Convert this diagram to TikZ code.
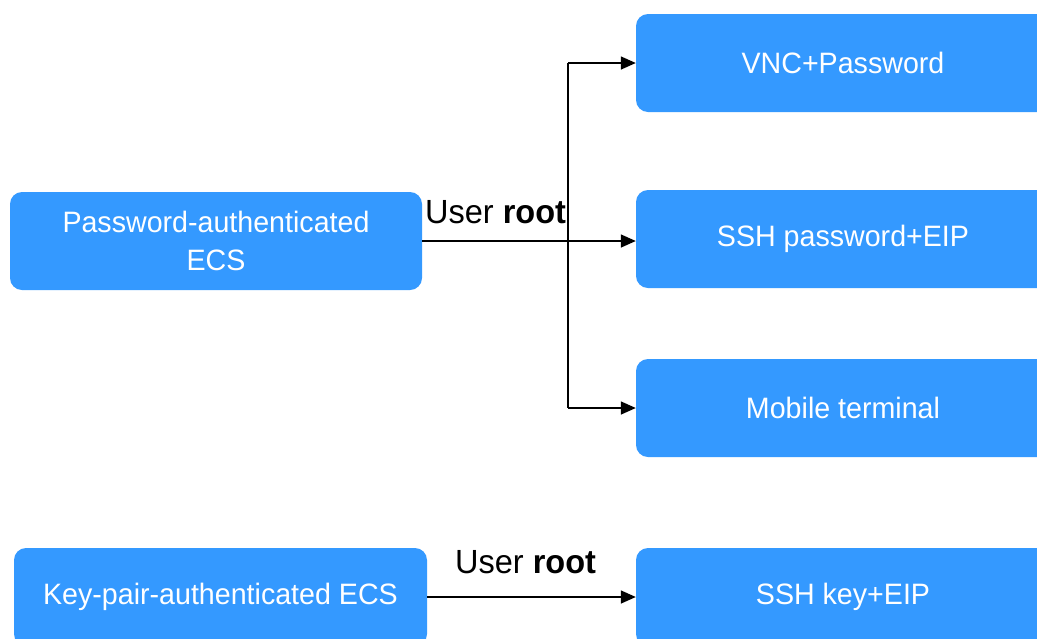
\documentclass[tikz,border=0pt]{standalone}
\usepackage{fontspec}
\setmainfont[FakeStretch=0.97]{Liberation Sans}
\usetikzlibrary{arrows.meta}
\definecolor{boxblue}{RGB}{52,153,255}
\begin{document}
\begin{tikzpicture}[x=1pt,y=-1pt,
  box/.style={fill=boxblue, rounded corners=12pt, text=white, inner sep=0pt,
    font=\fontsize{29.5}{37.5}\selectfont, align=center,
    minimum height=98pt},
  conn/.style={line width=1.5pt, -{Triangle[length=15pt,width=13pt]}},
  lbl/.style={font=\fontsize{33.5}{40}\selectfont, inner sep=0pt, anchor=base west}]
\useasboundingbox (0,0) rectangle (1037,638);
\clip (0,0) rectangle (1037,638);
\fill[white] (0,0) rectangle (1037,638);
\node[box, minimum width=412pt] (pw) at (216,241) {Password-authenticated\\ECS};
\node[box, minimum width=414pt] (vnc) at (843,63) {VNC+Password};
\node[box, minimum width=414pt] (sshpw) at (843,239) {SSH password+EIP};
\node[box, minimum width=414pt] (mob) at (843,408) {Mobile terminal};
\node[box, minimum width=413pt] (kp) at (220.5,597) {Key-pair-authenticated ECS};
\node[box, minimum width=414pt] (key) at (843,597) {SSH key+EIP};
\coordinate (j) at (568,241);
\draw[conn] (pw.east) -- (pw.east -| sshpw.west);
\draw[line width=1.5pt, line cap=square] (j |- vnc.west) -- (j |- mob.west);
\draw[conn] (j |- vnc.west) -- (vnc.west);
\draw[conn] (j |- mob.west) -- (mob.west);
\draw[conn] (kp.east) -- (kp.east -| key.west);
\node[lbl] (l1) at (425,223) {User \textbf{root}};
\node[lbl] (l2) at (455,573) {User \textbf{root}};
\end{tikzpicture}
\end{document}
